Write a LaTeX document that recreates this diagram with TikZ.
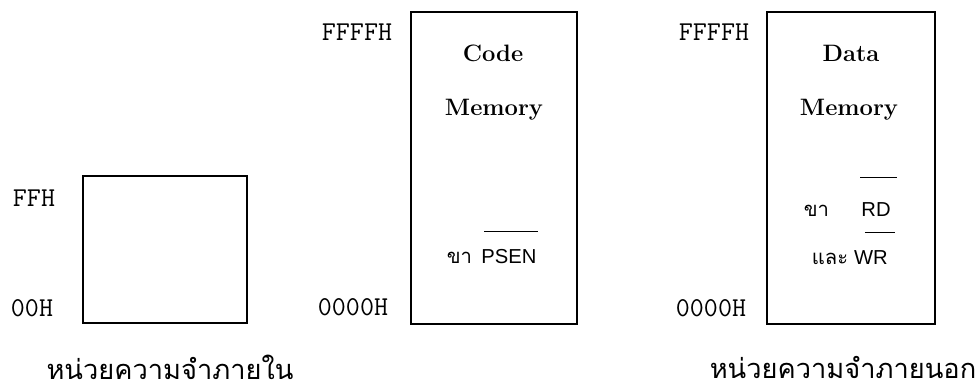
\documentclass[tikz,border=0pt]{standalone}
\usepackage{fontspec}
\setsansfont{Liberation Sans}
\newfontfamily\thaifont[Script=Thai]{Loma}
\usetikzlibrary{positioning}
\tikzset{
  membox/.style ={rectangle, draw, line width=0.9pt, inner sep=0pt},
  addr/.style   ={font=\ttfamily\fontsize{15.5}{18}\selectfont, inner sep=0pt},
  memname/.style={font=\bfseries\fontsize{13.5}{16}\selectfont, inner sep=0pt},
  pinname/.style={font=\sffamily\fontsize{11.5}{14}\selectfont, inner sep=0pt},
  thai/.style   ={font=\thaifont\fontsize{11.5}{14}\selectfont, inner sep=0pt},
  caption/.style={font=\thaifont\fontsize{15.5}{18}\selectfont, inner sep=0pt},
  bar/.style    ={line width=0.6pt},
}
\begin{document}
\begin{tikzpicture}[x=0.02cm, y=-0.02cm]
  \useasboundingbox (0,0) rectangle (975,392);
  % --- internal memory ------------------------------------------------------
  \node[membox, minimum width=3.28cm, minimum height=2.94cm] (intmem) at (165,249.5) {};
  \node[addr] (inttop) at (34,198) {FFH};
  \node[addr] (intbot) at (32,308) {00H};
  \node[caption] (intcap) at (170,367) {หน่วยความจำภายใน};

  % --- external code memory -------------------------------------------------
  \node[membox, minimum width=3.32cm, minimum height=6.24cm] (codemem) at (494,168) {};
  \node[addr] (codetop) at (357,32) {FFFFH};
  \node[addr] (codebot) at (353,307) {0000H};
  \node[memname] (codet1) at (493,53) {Code};
  \node[memname] (codet2) at (494,110) {Memory};
  \node[pinname] (psen) at (509,257) {PSEN};
  \node[thai, base left=5pt of psen] (psenkh) {ขา};

  % --- external data memory -------------------------------------------------
  \node[membox, minimum width=3.36cm, minimum height=6.24cm] (datamem) at (851,168) {};
  \node[addr] (datatop) at (714,32) {FFFFH};
  \node[addr] (databot) at (711,308) {0000H};
  \node[memname] (datat1) at (851,53) {Data};
  \node[memname] (datat2) at (849,110) {Memory};
  \node[pinname] (rd) at (876,210) {RD};
  \node[pinname] (wr) at (871,258) {WR};
  \node[thai, base left=18pt of rd] (rdkh) {ขา};
  \node[thai, base left=3pt of wr] (wrlae) {และ};
  \node[caption] (extcap) at (843,367) {หน่วยความจำภายนอก};

  % active-low bars over the pin names
  \foreach \n/\h/\a/\b in {psen/0.36/0.06/0.02, rd/0.5/-0.02/0.12, wr/0.36/0.22/0.14}
    \draw[bar] ([yshift=\h cm, xshift=\a cm]\n.north west) -- ([yshift=\h cm, xshift=\b cm]\n.north east);
\end{tikzpicture}
\end{document}
